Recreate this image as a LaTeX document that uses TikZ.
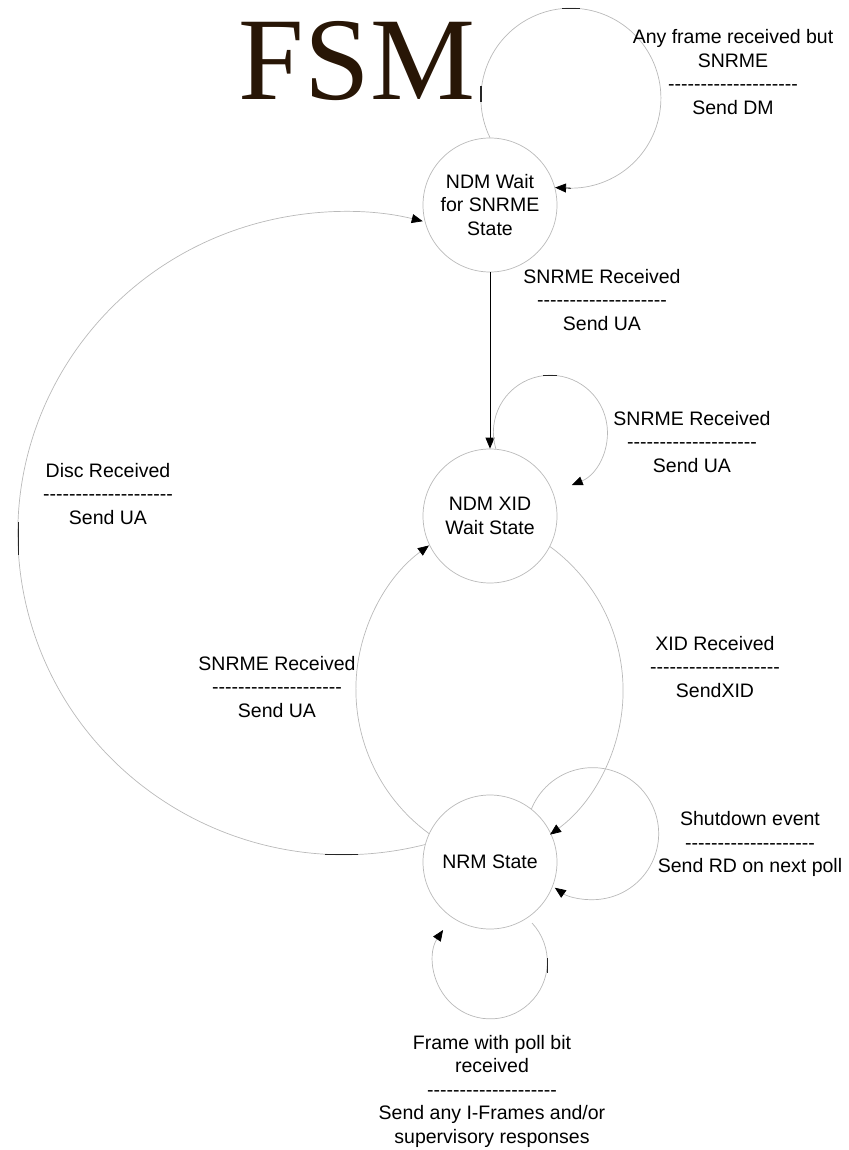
\documentclass[tikz,border=0pt]{standalone}
\usepackage{fontspec}
\newfontfamily\lab{Liberation Sans}
\newfontfamily\fsmfont{Liberation Serif}
\usetikzlibrary{arrows.meta}
\definecolor{edgegray}{RGB}{185,185,185}
\definecolor{fsmbrown}{RGB}{40,22,6}
\newcommand\hyphrow{--------------------}
\begin{document}
\begin{tikzpicture}[x=1pt,y=1pt,
  state/.style={circle,draw=edgegray,line width=0.7pt,minimum size=134pt,inner sep=0pt,
    font=\lab\fontsize{19.5}{23.5}\selectfont,align=center},
  lbl/.style={font=\lab\fontsize{19.5}{23.5}\selectfont,align=center,inner sep=0pt},
  edge/.style={draw=edgegray,line width=0.7pt},
  tip/.style={-{Triangle[length=11pt,width=9pt,color=black]}},
  tick/.style={draw=black!85,line width=1.3pt}]

\path[use as bounding box] (0,0) rectangle (848,-1150);

\node[font=\fsmfont\fontsize{118}{118}\selectfont,text=fsmbrown,anchor=base,inner sep=0pt] (title) at (357,-100) {FSM};

\node[state] (wait) at (490,-205) {NDM Wait\\for SNRME\\State};
\node[state] (xid) at (490,-516) {NDM XID\\Wait State};
\node[state] (nrm) at (490,-862) {NRM State};

% NDM Wait -> NDM XID
\draw[black,line width=0.8pt,tip] (wait.south) -- (xid.north);

% self loop on NDM Wait
\draw[edge] (wait.90) arc[start angle=206,end angle=-90,radius=90] coordinate (tl);
\draw[black,line width=0.8pt,tip] (tl) -- (wait.15);

% self loop on NDM XID
\draw[edge,tip] (xid.85) arc[start angle=197,end angle=-68,radius=57];

% NDM XID -> NRM
\draw[edge,tip] (xid.-27) arc[start angle=53.8,end angle=-53.8,radius=178.5];

% NRM -> NDM XID
\draw[edge,tip] (nrm.155) arc[start angle=233.8,end angle=126.2,radius=178.5];

% NRM -> NDM Wait (Disc)
\draw[edge,tip] (nrm.165) arc[start angle=-75.6,end angle=-284,x radius=326,y radius=321.5];

% Shutdown loop on NRM
\draw[edge,tip] (nrm.52) arc[start angle=158,end angle=-125,radius=66];

% poll loop on NRM
\draw[edge,tip] ([shift={(42,-61)}]nrm.center) arc[start angle=43,end angle=-214,radius=57];

% small handle marks
\draw[tick] (562,-8.5) -- (580,-8.5);
\draw[tick] (481,-86) -- (481,-102);
\draw[tick] (543,-375.5) -- (557,-375.5);
\draw[tick] (18.2,-522) -- (18.2,-555);
\draw[tick] (325,-854.8) -- (358,-854.8);
\draw[tick] (547.3,-958) -- (547.3,-973);

% labels
\node[lbl] (l1) at (733,-72) {Any frame received but\\SNRME\\\hyphrow\\Send DM};
\node[lbl] (l2) at (602,-300) {SNRME Received\\\hyphrow\\Send UA};
\node[lbl] (l3) at (692,-442) {SNRME Received\\\hyphrow\\Send UA};
\node[lbl] (l4) at (108,-494) {Disc Received\\\hyphrow\\Send UA};
\node[lbl] (l5) at (277,-687) {SNRME Received\\\hyphrow\\Send UA};
\node[lbl] (l6) at (715,-667) {XID Received\\\hyphrow\\SendXID};
\node[lbl] (l7) at (750,-844) {Shutdown event\\\hyphrow\\Send RD on next poll};
\node[lbl] (l8) at (492,-1091) {Frame with poll bit\\received\\\hyphrow\\Send any I-Frames and/or\\supervisory responses};
\end{tikzpicture}
\end{document}
